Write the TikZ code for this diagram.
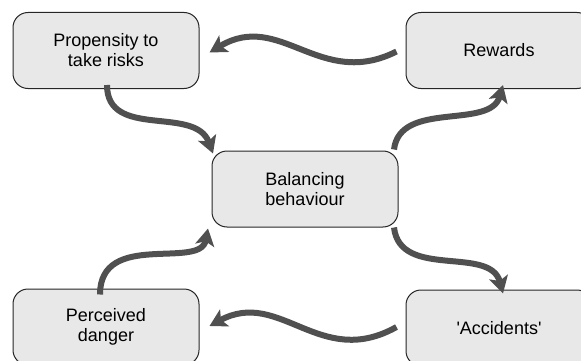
\documentclass[tikz,border=0pt]{standalone}
\usepackage{fontspec}
\setmainfont{Liberation Sans}
\usetikzlibrary{arrows.meta}
\definecolor{boxfill}{HTML}{E8E8E8}
\definecolor{flowgray}{HTML}{505050}
\begin{document}
\begin{tikzpicture}[x=1pt,y=-1pt,
  factor/.style={draw=black!85, line width=1pt, fill=boxfill, rounded corners=15pt,
    minimum width=186pt, minimum height=76pt, align=center, inner sep=0pt,
    font=\fontsize{18pt}{20pt}\selectfont},
  flow/.style={draw=flowgray, line width=6pt,
    -{Stealth[length=17pt,width=19pt,inset=4pt]}}]
  \useasboundingbox (0,0) rectangle (581,361);

  % the five factors of the risk compensation loop
  \node[factor] (prop) at (106,50.5) {Propensity to\\take risks};
  \node[factor] (rew)  at (499,50.5) {Rewards};
  \node[factor] (bal)  at (305,189)  {Balancing\\behaviour};
  \node[factor] (perc) at (106,327)  {Perceived\\danger};
  \node[factor] (acc)  at (499,328)  {\textquotesingle Accidents\textquotesingle};

  % wavy links between the factors
  \draw[flow] ([xshift=-9pt,yshift=-1pt]rew.west)
     .. controls (320,90) and (280,10) .. ([xshift=10pt,yshift=-2pt]prop.east);
  \draw[flow] ([xshift=1pt,yshift=4pt]prop.south)
     .. controls (107,140) and (195,105) .. ([xshift=-92pt,yshift=-3pt]bal.north);
  \draw[flow] ([xshift=89pt,yshift=1pt]bal.north)
     .. controls (400,100) and (490,130) .. ([xshift=4pt,yshift=4pt]rew.south);
  \draw[flow] ([xshift=89pt,yshift=0pt]bal.south)
     .. controls (400,280) and (490,245) .. ([xshift=4pt,yshift=-4pt]acc.north);
  \draw[flow] ([xshift=-9pt,yshift=1pt]acc.west)
     .. controls (320,370) and (280,288) .. ([xshift=10pt,yshift=1pt]perc.west -| prop.east);
  \draw[flow] ([xshift=-6pt,yshift=-6pt]perc.north)
     .. controls (100,230) and (200,270) .. ([xshift=-97pt,yshift=-1pt]bal.south);
\end{tikzpicture}
\end{document}
